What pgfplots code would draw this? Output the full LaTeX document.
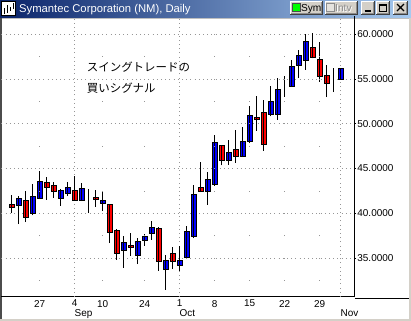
\documentclass[border=0pt]{standalone}
\usepackage{pgfplots}
\pgfplotsset{compat=1.18}
\usepackage{pgfplotstable}
\usepackage{fontspec}
\setmainfont{Liberation Sans}
\newfontfamily\jpfont{Noto Sans CJK JP}
\definecolor{btnface}{RGB}{212,208,200}
\definecolor{tbdark}{RGB}{10,36,106}
\definecolor{tblight}{RGB}{166,202,240}
\definecolor{gridgray}{RGB}{150,150,150}

\pgfplotstableread{
i O H L C
0 41.03 42.06 40.02 40.66
1 40.88 41.92 38.79 41.70
2 41.44 42.48 39.02 39.55
3 39.94 43.30 39.77 41.92
4 41.62 44.74 41.58 43.56
5 43.48 44.04 41.51 42.89
6 43.11 43.48 41.72 42.44
7 41.64 42.70 40.86 42.56
8 42.20 43.45 41.92 42.89
9 42.56 44.21 41.42 41.47
10 41.40 43.37 41.35 42.81
11 42.20 42.76 40.02 42.20
12 41.81 42.56 40.75 41.53
13 41.08 42.46 40.25 41.47
14 41.03 41.05 36.67 37.88
15 38.13 38.24 34.81 35.48
16 35.86 37.51 33.94 36.76
17 36.45 37.79 35.28 36.17
18 35.28 37.23 34.33 36.87
19 36.98 37.68 36.37 37.42
20 37.71 39.13 37.04 38.46
21 38.35 38.43 33.60 34.63
22 33.72 35.39 31.46 34.74
23 35.52 36.23 33.77 34.63
24 34.16 36.34 33.58 34.75
25 35.08 38.54 35.00 37.98
26 37.42 43.18 37.23 42.14
27 42.89 45.71 42.37 42.44
28 42.40 44.60 40.95 43.82
29 43.18 48.76 43.09 47.95
30 47.58 47.61 45.35 45.90
31 45.90 48.17 45.41 46.80
32 47.17 49.32 45.64 46.31
33 46.31 49.59 46.27 48.06
34 48.02 52.00 47.83 50.93
35 50.70 53.14 49.21 50.44
36 51.26 52.69 46.98 47.65
37 51.04 54.20 50.81 52.52
38 51.02 55.15 50.44 53.86
39 54.16 55.29 53.02 54.16
40 54.20 57.08 54.14 56.41
41 56.51 58.21 55.09 57.63
42 57.08 60.00 56.04 59.20
43 58.53 60.13 57.29 57.38
44 57.15 59.11 54.70 55.29
45 55.39 56.51 52.97 54.48
46 55.01 56.21 53.53 55.01
47 54.92 56.26 54.92 56.17
}\candles

\newcommand\winbtn[4]{%
  \fill[btnface] (#1,-#2) rectangle (#3,-#4);
  \draw[white, line width=1bp] (#1+0.5,-#4+1) -- (#1+0.5,-#2-0.5) -- (#3-1,-#2-0.5);
  \draw[black!75, line width=1bp] (#1,-#4+0.5) -- (#3-0.5,-#4+0.5) -- (#3-0.5,-#2);
  \draw[black!45, line width=1bp] (#1+1,-#4+1.5) -- (#3-1.5,-#4+1.5) -- (#3-1.5,-#2-1);
}

\begin{document}
\begin{tikzpicture}[x=1bp,y=1bp]
\useasboundingbox (0,0) rectangle (411,-321);
\fill[white] (0,0) rectangle (411,-321);
% title bar
\shade[left color=tbdark, right color=tblight] (0,0) rectangle (411,-18);
\fill[white] (1,-1) rectangle (16,-16);
\draw[black, line width=0.8bp] (1.4,-1.4) rectangle (15.6,-15.6);
\draw[black, line width=1bp] (4,-14) -- (4,-8) (7,-13) -- (7,-5) (10,-11) -- (10,-7) (13,-9) -- (13,-3);
\node[anchor=base west, inner sep=0, text=white, font=\fontsize{11.3}{13}\selectfont] at (19,-12) {Symantec Corporation (NM), Daily};
% buttons
\winbtn{290}{1}{323}{15}
\fill[green] (292.7,-3.5) rectangle (300,-11);
\draw[black!70, line width=0.8bp] (292.7,-3.5) rectangle (300,-11);
\node[anchor=base west, inner sep=0, font=\fontsize{10.2}{12}\selectfont] at (300.8,-11.6) {Sym};
\winbtn{325}{1}{358}{15}
\fill[btnface!60!white] (326.7,-3.5) rectangle (334,-11);
\draw[black!45, line width=0.8bp] (326.7,-3.5) rectangle (334,-11);
\node[anchor=base west, inner sep=0, text=white, font=\fontsize{10.2}{12}\selectfont] at (335.8,-12.4) {Intv};
\node[anchor=base west, inner sep=0, text=black!45, font=\fontsize{10.2}{12}\selectfont] at (335,-11.6) {Intv};
\winbtn{361}{1}{375}{15}
\draw[black, line width=2bp] (364.5,-11) -- (370.5,-11);
\winbtn{376}{1}{390}{15}
\draw[black, line width=1bp] (379.5,-4) rectangle (386.5,-11.5);
\draw[black, line width=1bp] (379.5,-5) -- (386.5,-5);
\winbtn{393}{1}{408}{15}
\draw[black, line width=1.3bp] (397,-4) -- (404,-11) (397,-11) -- (404,-4);
% frame
\draw[black!25, line width=1bp] (0,-18.5) -- (411,-18.5);
\fill[black!70] (0,-18) rectangle (1.6,-319.5);
\fill[btnface] (408.5,-18) rectangle (411,-321);
\fill[btnface] (0,-319.3) rectangle (411,-321);

% Japanese annotation
\node[anchor=base west, inner sep=0, font=\jpfont\fontsize{11.5}{14}\selectfont] at (86.7,-71) {スイングトレードの};
\node[anchor=base west, inner sep=0, font=\jpfont\fontsize{11.5}{14}\selectfont] at (86.7,-92.6) {買いシグナル};

\begin{axis}[
  at={(2,-18)}, anchor=north west,
  scale only axis, width=353.3bp, height=280.7bp,
  xmin=-1.471, xmax=49.0, ymin=30.68, ymax=62.01,
  ybar stacked, bar width=0.75,
  axis x line*=bottom, axis y line*=right,
  axis line style={black, line width=0.9bp},
  xtick={4,9,13,19,24,29,34,39,44},
  xticklabels={27,4,10,24,1,8,15,22,29},
  extra x ticks={9,24,47},
  extra x tick labels={Sep,Oct,Nov},
  extra x tick style={grid=major, tick label style={anchor=north west, yshift=-9.2bp, xshift=-1.2bp}},
  ytick={35,40,45,50,55,60},
  yticklabels={35.0000,40.0000,45.0000,50.0000,55.0000,60.0000},
  ymajorgrids=true,
  major grid style={gridgray, line width=0.7bp, dash pattern=on 0.8bp off 3.4bp},
  tick align=outside, major tick length=1.5bp,
  xtick style={draw=none},
  ytick style={black, line width=0.8bp},
  tick label style={font=\fontsize{10}{12}\selectfont, inner sep=1bp},
  xticklabel style={yshift=-0.6bp},
  /pgf/number format/assume math mode=true,
]
\pgfplotsinvokeforeach{4,13,19,29,34,39,44}{
  \draw[gridgray, line width=0.8bp, dash pattern=on 0.8bp off 21.6bp] (axis cs:#1,32.455) -- (axis cs:#1,60.2);
}
\addplot[draw=none, fill=none, error bars/.cd, y dir=plus, y explicit, error mark=none,
  error bar style={draw=black, line width=0.9bp}]
  table[x=i, y=L, y error plus expr=\thisrow{H}-\thisrow{L}] {\candles};
\addplot[draw=none, fill=none]
  table[x=i, y expr={min(\thisrow{O},\thisrow{C})-\thisrow{L}}] {\candles};
\addplot[fill=blue, draw=black, line width=0.8bp]
  table[x=i, y expr={max(\thisrow{C}-\thisrow{O},0)}] {\candles};
\addplot[fill=red, draw=black, line width=0.8bp]
  table[x=i, y expr={max(\thisrow{O}-\thisrow{C},0)}] {\candles};
\end{axis}
\draw[black, line width=0.9bp] (355,-298.7) -- (408.5,-298.7);
\end{tikzpicture}
\end{document}
